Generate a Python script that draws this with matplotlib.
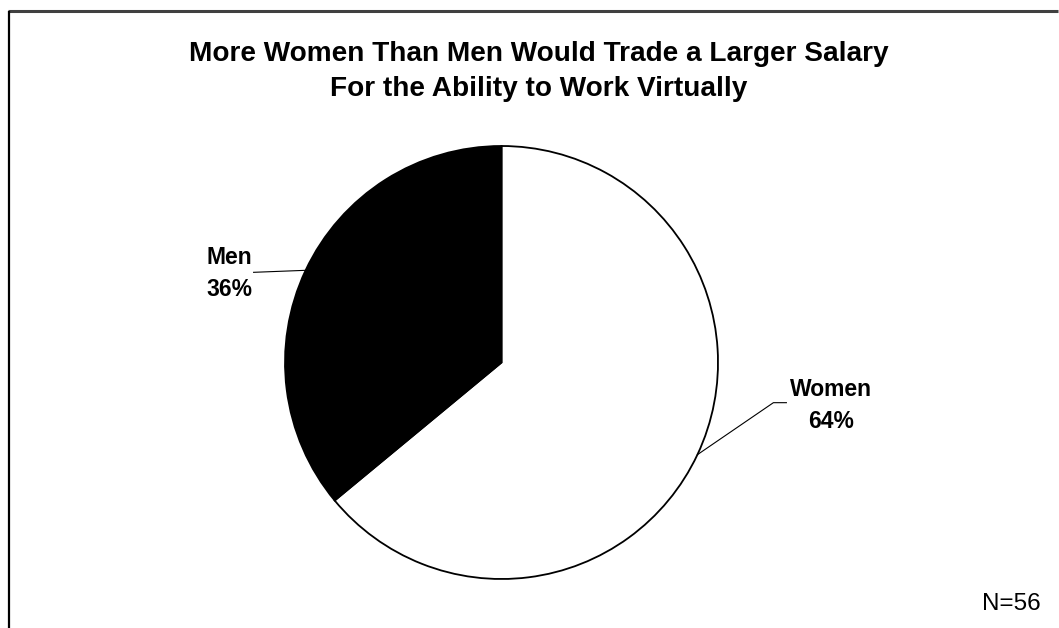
import matplotlib
matplotlib.use("Agg")
import matplotlib.pyplot as plt
import numpy as np

# Data
categories = ["Women", "Men"]
values = [64, 36]
colors = ["white", "black"]
title = "More Women Than Men Would Trade a Larger Salary\nFor the Ability to Work Virtually"
note = "N=56"

W, H = 1059, 628
fig = plt.figure(figsize=(W / 100, H / 100), dpi=100)
fig.patch.set_facecolor("white")
plt.rcParams["font.family"] = ["Liberation Sans", "DejaVu Sans"]

ax = fig.add_axes([0, 0, 1, 1])
cx, cy, R = 501.5, H - 362.5, 216.5
wedges, _ = ax.pie(values, colors=colors, startangle=90, counterclock=False,
                   center=(cx, cy), radius=R,
                   wedgeprops=dict(edgecolor="black", linewidth=1.3))
ax.set_xlim(0, W)
ax.set_ylim(0, H)
ax.set_aspect("equal")
ax.axis("off")

# Frame (top and left edges visible)
ax.plot([8, W - 1], [H - 11, H - 11], color="#404040", lw=2.2, solid_capstyle="butt")
ax.plot([9, 9], [0, H - 11], color="black", lw=1.6, solid_capstyle="butt")

# Labels with leader lines
label_cfg = {
    "Women": dict(elbow=(76, 52), tail=13, text=(134, 49)),
    "Men": dict(elbow=(-52, -2), tail=0, text=(-76, -3)),
}
for w, cat, val in zip(wedges, categories, values):
    ang = np.deg2rad((w.theta1 + w.theta2) / 2)
    ex, ey = cx + R * np.cos(ang), cy + R * np.sin(ang)
    cfg = label_cfg[cat]
    bx, by = ex + cfg["elbow"][0], ey + cfg["elbow"][1]
    xs = [ex, bx]
    ys = [ey, by]
    if cfg["tail"]:
        xs.append(bx + cfg["tail"])
        ys.append(by)
    ax.plot(xs, ys, color="black", lw=0.8)
    tx, ty = ex + cfg["text"][0], ey + cfg["text"][1]
    ax.text(tx, ty, f"{cat}\n{val}%", ha="center", va="center",
            fontsize=16.5, fontweight="bold", linespacing=1.5)

fig.text(539 / W, 1 - 71.5 / H, title, ha="center", va="center",
         fontsize=20.2, fontweight="bold", linespacing=1.42)
fig.text(1011.5 / W, 1 - 604 / H, note, ha="center", va="center", fontsize=17.5)

fig.savefig("out.png", dpi=100, facecolor="white")
